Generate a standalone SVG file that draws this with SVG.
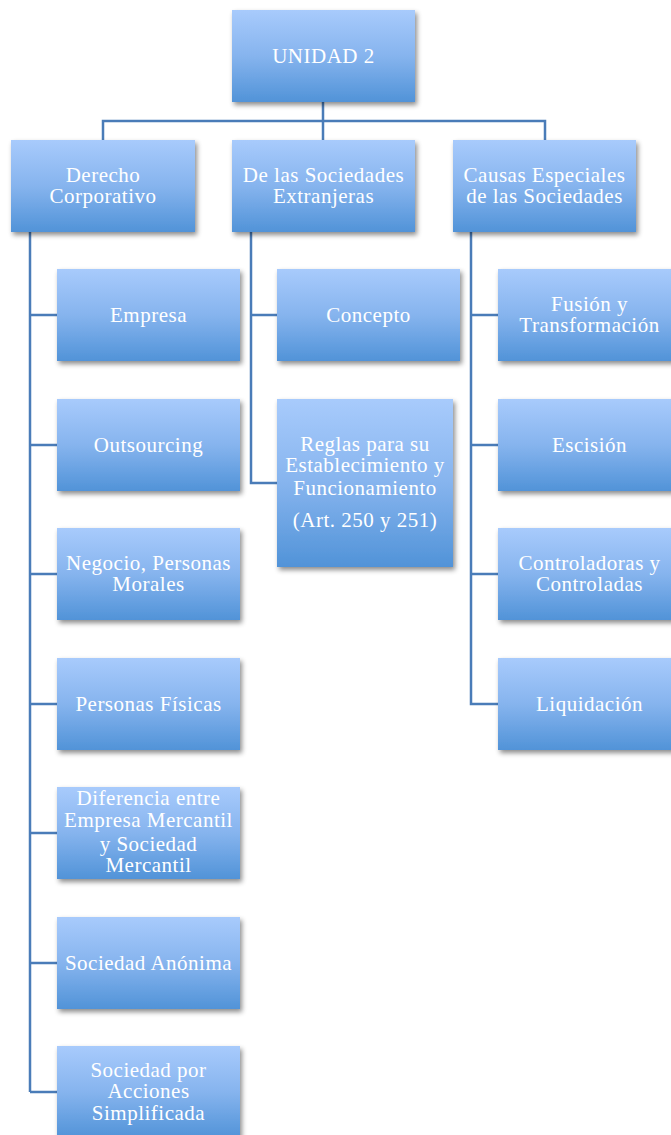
<svg xmlns="http://www.w3.org/2000/svg" width="671" height="1135" viewBox="0 0 671 1135">
<defs>
<linearGradient id="g" x1="0" y1="0" x2="0" y2="1">
<stop offset="0" stop-color="#a8cbfc"/>
<stop offset="0.5" stop-color="#86b4ee"/>
<stop offset="1" stop-color="#5193d8"/>
</linearGradient>
<filter id="sh" x="-10%" y="-10%" width="125%" height="130%">
<feDropShadow dx="2" dy="3" stdDeviation="2.5" flood-color="#000" flood-opacity="0.45"/>
</filter>
</defs>
<style>
.box{fill:url(#g);filter:url(#sh);}
.t{font-family:"Liberation Serif","Times New Roman",serif;font-size:21px;letter-spacing:0.5px;fill:#ffffff;text-anchor:middle;}
.c{fill:none;stroke:#4a7cb8;stroke-width:2.5;}
</style>
<g id="connectors">
<path class="c" d="M323,102 V121 M103,140 V121 H545 V140 M323,121 V140"/>
<path class="c" d="M30,232 V1092 M30,315 H57 M30,445 H57 M30,574 H57 M30,704 H57 M30,833 H57 M30,963 H57 M30,1092 H57"/>
<path class="c" d="M251,232 V483 H277 M251,315 H277"/>
<path class="c" d="M471,232 V704 H498 M471,315 H498 M471,445 H498 M471,574 H498"/>
</g>
<g id="unidad2"><rect class="box" x="232" y="10" width="183" height="92"/><text class="t" x="323.5" y="63">UNIDAD 2</text></g>
<g id="derecho"><rect class="box" x="11" y="140" width="184" height="92"/><text class="t" x="103" y="182">Derecho</text><text class="t" x="103" y="203">Corporativo</text></g>
<g id="extranjeras"><rect class="box" x="232" y="140" width="183" height="92"/><text class="t" x="323.5" y="182">De las Sociedades</text><text class="t" x="323.5" y="203">Extranjeras</text></g>
<g id="causas"><rect class="box" x="453" y="140" width="183" height="92"/><text class="t" x="544.5" y="182">Causas Especiales</text><text class="t" x="544.5" y="203">de las Sociedades</text></g>

<g id="empresa"><rect class="box" x="57" y="269" width="183" height="92"/><text class="t" x="148.5" y="322">Empresa</text></g>
<g id="outsourcing"><rect class="box" x="57" y="399" width="183" height="92"/><text class="t" x="148.5" y="452">Outsourcing</text></g>
<g id="negocio"><rect class="box" x="57" y="528" width="183" height="92"/><text class="t" x="148.5" y="570">Negocio, Personas</text><text class="t" x="148.5" y="591">Morales</text></g>
<g id="fisicas"><rect class="box" x="57" y="658" width="183" height="92"/><text class="t" x="148.5" y="711">Personas Físicas</text></g>
<g id="diferencia"><rect class="box" x="57" y="787" width="183" height="92"/><text class="t" x="148.5" y="805">Diferencia entre</text><text class="t" x="148.5" y="827">Empresa Mercantil</text><text class="t" x="148.5" y="851">y Sociedad</text><text class="t" x="148.5" y="872">Mercantil</text></g>
<g id="anonima"><rect class="box" x="57" y="917" width="183" height="92"/><text class="t" x="148.5" y="970">Sociedad Anónima</text></g>
<g id="sas"><rect class="box" x="57" y="1046" width="183" height="92"/><text class="t" x="148.5" y="1077">Sociedad por</text><text class="t" x="148.5" y="1098">Acciones</text><text class="t" x="148.5" y="1120">Simplificada</text></g>

<g id="concepto"><rect class="box" x="277" y="269" width="183" height="92"/><text class="t" x="368.5" y="322">Concepto</text></g>
<g id="reglas"><rect class="box" x="277" y="399" width="176" height="168"/><text class="t" x="365" y="451">Reglas para su</text><text class="t" x="365" y="472">Establecimiento y</text><text class="t" x="365" y="495">Funcionamiento</text><text class="t" x="365" y="527">(Art. 250 y 251)</text></g>

<g id="fusion"><rect class="box" x="498" y="269" width="183" height="92"/><text class="t" x="589.5" y="311">Fusión y</text><text class="t" x="589.5" y="332">Transformación</text></g>
<g id="escision"><rect class="box" x="498" y="399" width="183" height="92"/><text class="t" x="589.5" y="452">Escisión</text></g>
<g id="controladoras"><rect class="box" x="498" y="528" width="183" height="92"/><text class="t" x="589.5" y="570">Controladoras y</text><text class="t" x="589.5" y="591">Controladas</text></g>
<g id="liquidacion"><rect class="box" x="498" y="658" width="183" height="92"/><text class="t" x="589.5" y="711">Liquidación</text></g>
</svg>
